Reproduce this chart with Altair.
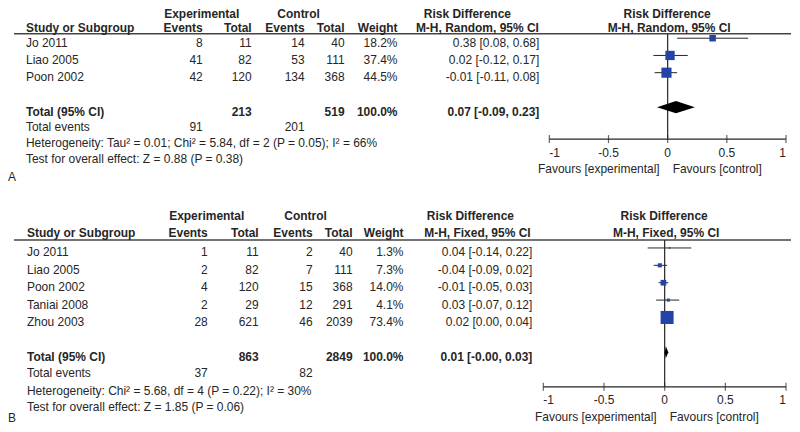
import altair as alt
import pandas as pd

# ---------------- Panel A data (random effects) ----------------
studies_a = ["Jo 2011", "Liao 2005", "Poon 2002"]
exp_events_a = [8, 41, 42]
exp_total_a = [11, 82, 120]
ctl_events_a = [14, 53, 134]
ctl_total_a = [40, 111, 368]
weight_a = [18.2, 37.4, 44.5]
rd_a = [0.38, 0.02, -0.01]
lo_a = [0.08, -0.12, -0.11]
hi_a = [0.68, 0.17, 0.08]
pooled_a = [0.07, -0.09, 0.23]
totals_a = [213, 519]
total_events_a = [91, 201]
method_a = "M-H, Random, 95% CI"
het_a = "Heterogeneity: Tau² = 0.01; Chi² = 5.84, df = 2 (P = 0.05); I² = 66%"
test_a = "Test for overall effect: Z = 0.88 (P = 0.38)"

# ---------------- Panel B data (fixed effects) ----------------
studies_b = ["Jo 2011", "Liao 2005", "Poon 2002", "Taniai 2008", "Zhou 2003"]
exp_events_b = [1, 2, 4, 2, 28]
exp_total_b = [11, 82, 120, 29, 621]
ctl_events_b = [2, 7, 15, 12, 46]
ctl_total_b = [40, 111, 368, 291, 2039]
weight_b = [1.3, 7.3, 14.0, 4.1, 73.4]
rd_b = [0.04, -0.04, -0.01, 0.03, 0.02]
lo_b = [-0.14, -0.09, -0.05, -0.07, 0.00]
hi_b = [0.22, 0.02, 0.03, 0.12, 0.04]
pooled_b = [0.01, -0.0, 0.03]
totals_b = [863, 2849]
total_events_b = [37, 82]
method_b = "M-H, Fixed, 95% CI"
het_b = "Heterogeneity: Chi² = 5.68, df = 4 (P = 0.22); I² = 30%"
test_b = "Test for overall effect: Z = 1.85 (P = 0.06)"

tick_values = [-1, -0.5, 0, 0.5, 1]
favours = ["Favours [experimental]", "Favours [control]"]

# ---------------- styles / layout ----------------
FONT = "Liberation Sans"
FS = 12
INK = "#262626"
BLUE = "#2443a6"
TXT_DY = 4.5

LAYOUT_A = dict(
    height=192, y_origin=30, row_px=17.25,
    x_range=[542, 779], axis_row=5.855, label_dy=14,
    line_row=-0.26, hdr1_row=-1.652, hdr2_row=-0.87,
    total_row=4, events_row=4.9, het_row=5.8, test_row=6.75,
    label_row=7.8, favours_row=7.33,
    square_max_area=170, diamond_half=0.35,
    cols={
        "study": (18, "left"), "ev_e": (195, "right"), "tot_e": (244, "right"),
        "ev_c": (297, "right"), "tot_c": (337, "right"), "wt": (390, "right"),
        "ci": (532, "right"), "exp_h": (194, "center"), "ctl_h": (291, "center"),
        "rd1_h": (460, "center"), "mh1_h": (470, "center"),
        "rd2_h": (660, "center"), "mh2_h": (662, "center"), "label": (0, "left"),
    },
)

LAYOUT_B = dict(
    height=224, y_origin=48, row_px=17.4,
    x_range=[536, 779], axis_row=7.99, label_dy=13.5,
    line_row=-0.46, hdr1_row=-2.1, hdr2_row=-1.12,
    total_row=6, events_row=6.95, het_row=7.95, test_row=8.9,
    label_row=9.5, favours_row=9.45,
    square_max_area=450, diamond_half=0.345,
    cols={
        "study": (19, "left"), "ev_e": (200, "right"), "tot_e": (251, "right"),
        "ev_c": (305, "right"), "tot_c": (345, "right"), "wt": (396, "right"),
        "ci": (525, "right"), "exp_h": (199, "center"), "ctl_h": (298, "center"),
        "rd1_h": (463, "center"), "mh1_h": (470, "center"),
        "rd2_h": (657, "center"), "mh2_h": (659, "center"), "label": (0, "left"),
    },
)


def ci_text(est, lo, hi):
    return f"{est:.2f} [{lo:.2f}, {hi:.2f}]"


def panel(L, studies, ee, et, ce, ct, wt, rd, lo, hi, pooled, totals, tev,
          method, het, test, label):
    H = L["height"]
    r0 = -L["y_origin"] / L["row_px"]
    r1 = (H - L["y_origin"]) / L["row_px"]
    ys = alt.Scale(domain=[r0, r1], reverse=True, nice=False, zero=False)
    xs = alt.Scale(domain=[-1, 1], range=L["x_range"], nice=False, zero=False)
    n = len(studies)
    sdf = pd.DataFrame(dict(r=list(range(n)), rd=rd, lo=lo, hi=hi, w=wt))
    one = pd.DataFrame({"a": [0]})
    ar = L["axis_row"]

    layers = []
    # header separator line
    layers.append(
        alt.Chart(one).mark_rule(color="#444", strokeWidth=1.5)
        .encode(x=alt.value(6), x2=alt.value(784),
                y=alt.YDatum(L["line_row"], scale=ys, axis=None))
    )
    # zero line
    layers.append(
        alt.Chart(one).mark_rule(color=INK, strokeWidth=1.2)
        .encode(x=alt.XDatum(0, scale=xs, axis=None),
                y=alt.YDatum(L["line_row"], scale=ys, axis=None),
                y2=alt.Y2Datum(ar))
    )
    # axis domain line
    layers.append(
        alt.Chart(one).mark_rule(color=INK, strokeWidth=1.2)
        .encode(x=alt.XDatum(tick_values[0], scale=xs, axis=None),
                x2=alt.X2Datum(tick_values[-1]),
                y=alt.YDatum(ar, scale=ys, axis=None))
    )
    # axis ticks crossing the axis line
    tdf = pd.DataFrame({"t": tick_values,
                        "lab": [f"{v:g}" for v in tick_values]})
    layers.append(
        alt.Chart(tdf).mark_tick(orient="vertical", size=8, thickness=1.2, color=INK)
        .encode(x=alt.X("t:Q", scale=xs, axis=None),
                y=alt.YDatum(ar, scale=ys, axis=None))
    )
    # axis labels (flush at the ends)
    for sub, al in [(tdf.iloc[[0]], "left"), (tdf.iloc[1:-1], "center"),
                    (tdf.iloc[[-1]], "right")]:
        layers.append(
            alt.Chart(sub.reset_index(drop=True)).mark_text(
                align=al, baseline="middle", dy=L["label_dy"], font=FONT,
                fontSize=FS, color=INK)
            .encode(x=alt.X("t:Q", scale=xs, axis=None),
                    y=alt.YDatum(ar, scale=ys, axis=None), text="lab:N")
        )
    # confidence intervals
    layers.append(
        alt.Chart(sdf).mark_rule(color=INK, strokeWidth=1)
        .encode(x=alt.X("lo:Q", scale=xs, axis=None), x2="hi:Q",
                y=alt.Y("r:Q", scale=ys, axis=None))
    )
    # squares
    layers.append(
        alt.Chart(sdf).mark_square(color=BLUE, opacity=1, filled=True)
        .encode(x=alt.X("rd:Q", scale=xs, axis=None),
                y=alt.Y("r:Q", scale=ys, axis=None),
                size=alt.Size("w:Q", legend=None,
                              scale=alt.Scale(domain=[0, max(wt)],
                                              range=[0, L["square_max_area"]])))
    )
    # diamond
    tr = L["total_row"]
    h = L["diamond_half"]
    ddf = pd.DataFrame(dict(x=[pooled[1], pooled[0], pooled[2]],
                            y1=[tr, tr - h, tr], y2=[tr, tr + h, tr]))
    layers.append(
        alt.Chart(ddf).mark_area(color="black", opacity=1)
        .encode(x=alt.X("x:Q", scale=xs, axis=None),
                y=alt.Y("y1:Q", scale=ys, axis=None), y2="y2:Q")
    )
    # favours labels
    for txt, al, dx in [(favours[0], "right", -8), (favours[1], "left", 5)]:
        layers.append(
            alt.Chart(pd.DataFrame({"t": [txt]})).mark_text(
                align=al, dx=dx, dy=TXT_DY, baseline="middle", font=FONT,
                fontSize=FS, color=INK)
            .encode(x=alt.XDatum(0, scale=xs, axis=None),
                    y=alt.YDatum(L["favours_row"], scale=ys, axis=None),
                    text="t:N")
        )

    # table text cells
    cells = []

    def add(r, col, text, bold=False):
        cells.append(dict(r=r, col=col, text=str(text), bold=bold))

    hr1, hr2 = L["hdr1_row"], L["hdr2_row"]
    add(hr1, "exp_h", "Experimental", True)
    add(hr1, "ctl_h", "Control", True)
    add(hr1, "rd1_h", "Risk Difference", True)
    add(hr1, "rd2_h", "Risk Difference", True)
    add(hr2, "study", "Study or Subgroup", True)
    add(hr2, "ev_e", "Events", True)
    add(hr2, "tot_e", "Total", True)
    add(hr2, "ev_c", "Events", True)
    add(hr2, "tot_c", "Total", True)
    add(hr2, "wt", "Weight", True)
    add(hr2, "mh1_h", method, True)
    add(hr2, "mh2_h", method, True)
    for i in range(n):
        add(i, "study", studies[i])
        add(i, "ev_e", ee[i])
        add(i, "tot_e", et[i])
        add(i, "ev_c", ce[i])
        add(i, "tot_c", ct[i])
        add(i, "wt", f"{wt[i]:.1f}%")
        add(i, "ci", ci_text(rd[i], lo[i], hi[i]))
    add(tr, "study", "Total (95% CI)", True)
    add(tr, "tot_e", totals[0], True)
    add(tr, "tot_c", totals[1], True)
    add(tr, "wt", "100.0%", True)
    add(tr, "ci", ci_text(*pooled), True)
    add(L["events_row"], "study", "Total events")
    add(L["events_row"], "ev_e", tev[0])
    add(L["events_row"], "ev_c", tev[1])
    add(L["het_row"], "study", het)
    add(L["test_row"], "study", test)
    add(L["label_row"], "label", label)

    cdf = pd.DataFrame(cells)
    for (col, bold), sub in cdf.groupby(["col", "bold"]):
        xpx, al = L["cols"][col]
        layers.append(
            alt.Chart(sub.reset_index(drop=True)).mark_text(
                align=al, baseline="middle", dy=TXT_DY, font=FONT, fontSize=FS,
                color=INK, fontWeight="bold" if bold else "normal")
            .encode(x=alt.value(xpx), y=alt.Y("r:Q", scale=ys, axis=None),
                    text="text:N")
        )

    return alt.layer(*layers).properties(width=784, height=H)


pa = panel(LAYOUT_A, studies_a, exp_events_a, exp_total_a, ctl_events_a, ctl_total_a,
           weight_a, rd_a, lo_a, hi_a, pooled_a, totals_a, total_events_a,
           method_a, het_a, test_a, "A")
pb = panel(LAYOUT_B, studies_b, exp_events_b, exp_total_b, ctl_events_b, ctl_total_b,
           weight_b, rd_b, lo_b, hi_b, pooled_b, totals_b, total_events_b,
           method_b, het_b, test_b, "B")

chart = (
    alt.vconcat(pa, pb, spacing=0)
    .properties(padding=0, background="white")
    .configure_view(stroke=None)
)

chart.save("out.html", embed_options={"renderer": "svg", "actions": False})
